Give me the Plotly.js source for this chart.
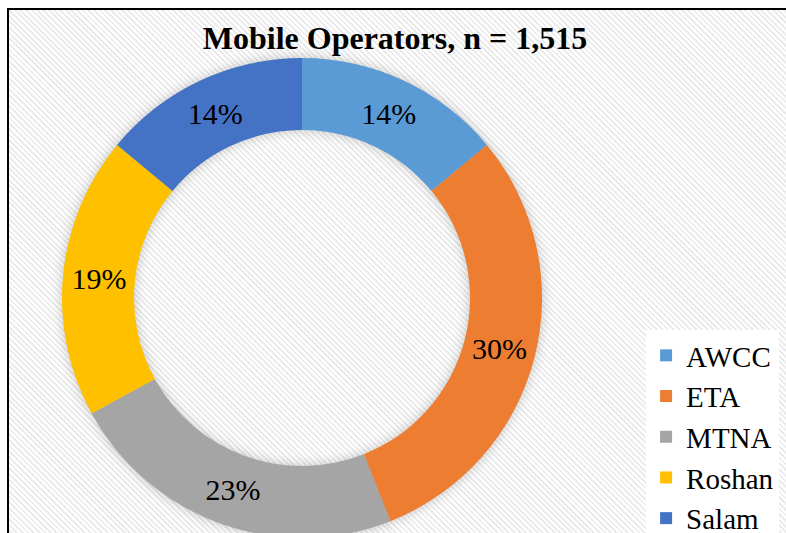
<!DOCTYPE html>
<html>
<head>
<meta charset="utf-8">
<script src="https://cdn.plot.ly/plotly-3.0.1.min.js"></script>
<style>
  html, body { margin: 0; padding: 0; overflow: hidden; background: #fff; }
  #frame {
    position: absolute; left: 7px; top: 8px; width: 900px; height: 700px;
    border: 2px solid #000;
    background: repeating-linear-gradient(45deg, #ffffff 0 2px, #ececec 2px 4px);
  }
  #chart { position: absolute; left: 0; top: 0; }
  .pielayer .trace:first-child { filter: blur(6px); }
</style>
</head>
<body>
<div id="frame"></div>
<div id="chart"></div>
<script>
"use strict";

const operators = ["AWCC", "ETA", "MTNA", "Roshan", "Salam"];
const shares = [14, 30, 23, 19, 14];
const colours = ["#5B9BD5", "#ED7D31", "#A5A5A5", "#FFC000", "#4472C4"];

const W = 786, H = 540;
const cx = 302, cy = 298, r = 240;
const domain = {
  x: [(cx - r) / W, (cx + r) / W],
  y: [(H - cy - r) / H, (H - cy + r) / H],
};

const serif = "Liberation Serif";

// soft shadow ring drawn under the donut (blurred via css)
const shadow = {
  type: "pie",
  labels: ["shadow"],
  values: [1],
  hole: 0.7,
  domain: domain,
  sort: false,
  textinfo: "none",
  hoverinfo: "skip",
  showlegend: false,
  marker: { colors: ["rgba(0,0,0,0.22)"], line: { width: 0 } },
};

const donut = {
  type: "pie",
  labels: operators,
  values: shares,
  hole: 0.7,
  domain: domain,
  sort: false,
  direction: "clockwise",
  rotation: 0,
  texttemplate: "%{value}%",
  textposition: "inside",
  insidetextorientation: "horizontal",
  textfont: { family: serif, size: 30, color: "#000" },
  marker: { colors: colours, line: { width: 0 } },
  hoverinfo: "label+percent",
};

const layout = {
  width: W,
  height: H,
  margin: { l: 0, r: 0, t: 0, b: 0, autoexpand: false },
  paper_bgcolor: "rgba(0,0,0,0)",
  plot_bgcolor: "rgba(0,0,0,0)",
  title: {
    text: "<b>Mobile Operators, n = 1,515</b>",
    font: { family: serif, size: 32, color: "#000" },
    x: 395 / W, xanchor: "center",
    y: 1 - 38 / H, yanchor: "middle",
    xref: "container", yref: "container",
  },
  showlegend: true,
  legend: {
    x: 0.822, xanchor: "left",
    y: 1 - 330 / H, yanchor: "top",
    bgcolor: "#fff",
    font: { family: serif, size: 29, color: "#000" },
    traceorder: "normal",
  },
};

Plotly.newPlot("chart", [shadow, donut], layout, { displayModeBar: false, staticPlot: true });
</script>
</body>
</html>
